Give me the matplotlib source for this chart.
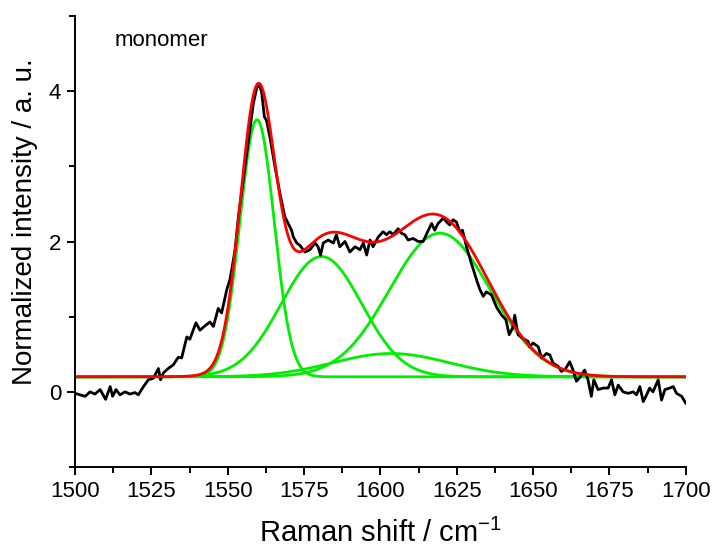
import numpy as np
import matplotlib
matplotlib.use("Agg")
import matplotlib.pyplot as plt
from matplotlib.ticker import MultipleLocator

plt.rcParams["font.family"] = ["Liberation Sans", "DejaVu Sans"]

# measured spectrum (Raman shift in cm^-1, normalized intensity)
shift = [
    1500.0, 1503.3, 1504.9, 1506.5, 1508.2, 1510.0, 1511.5, 1512.3, 1513.4, 1514.7,
    1516.4, 1518.0, 1519.6, 1520.7, 1522.4, 1524.0, 1525.6, 1527.3, 1528.0, 1528.9,
    1530.5, 1532.2, 1533.8, 1534.9, 1536.6, 1537.6, 1539.6, 1540.9, 1542.6, 1544.2,
    1545.3, 1546.9, 1548.0, 1549.7, 1550.7, 1551.5, 1552.4, 1553.5, 1555.1, 1556.7,
    1558.4, 1559.5, 1560.2, 1561.1, 1562.0, 1562.7, 1563.8, 1565.5, 1567.1, 1568.7,
    1569.8, 1570.9, 1571.5, 1572.6, 1573.6, 1575.3, 1576.9, 1578.6, 1579.6, 1580.4,
    1581.3, 1582.9, 1584.6, 1585.6, 1586.7, 1588.4, 1590.0, 1591.7, 1593.3, 1594.4,
    1595.5, 1596.6, 1597.6, 1599.3, 1600.9, 1602.0, 1603.1, 1604.2, 1605.8, 1606.9,
    1608.0, 1609.1, 1610.7, 1612.4, 1614.0, 1615.7, 1616.8, 1617.8, 1618.9, 1620.6,
    1621.7, 1622.7, 1623.8, 1624.9, 1626.0, 1626.9, 1628.2, 1629.8, 1631.5, 1632.6,
    1633.7, 1634.7, 1636.4, 1638.0, 1639.7, 1641.1, 1642.2, 1643.3, 1644.0, 1645.1,
    1646.7, 1648.4, 1648.9, 1650.0, 1651.7, 1652.8, 1654.4, 1655.5, 1656.6, 1658.2,
    1659.3, 1660.7, 1662.0, 1663.1, 1664.2, 1665.5, 1666.9, 1668.0, 1669.1, 1669.9,
    1671.3, 1673.0, 1674.6, 1675.7, 1676.8, 1677.9, 1679.5, 1681.2, 1682.8, 1683.9,
    1685.0, 1686.1, 1687.2, 1688.2, 1689.3, 1691.0, 1692.1, 1693.2, 1694.8, 1695.9,
    1697.0, 1698.7, 1700.0,
]
intensity = [
    -0.02, -0.06, 0.00, -0.03, 0.03, -0.10, 0.07, -0.06, 0.03, -0.04,
    0.00, -0.03, -0.01, -0.04, 0.07, 0.16, 0.18, 0.31, 0.16, 0.25,
    0.31, 0.36, 0.46, 0.45, 0.73, 0.70, 0.92, 0.82, 0.88, 0.93,
    0.87, 1.11, 1.05, 1.36, 1.49, 1.67, 1.89, 2.33, 2.82, 3.30,
    3.84, 4.04, 4.10, 3.99, 3.66, 3.61, 3.39, 2.99, 2.64, 2.33,
    2.24, 2.15, 2.06, 1.98, 1.95, 1.86, 1.89, 1.98, 1.93, 1.82,
    1.98, 2.02, 1.98, 2.09, 1.93, 2.00, 1.86, 1.93, 1.89, 1.98,
    1.82, 2.02, 1.93, 2.06, 2.13, 2.09, 2.13, 2.09, 2.17, 2.11,
    2.09, 2.02, 2.04, 2.00, 2.00, 2.15, 2.24, 2.15, 2.24, 2.31,
    2.26, 2.22, 2.29, 2.26, 2.13, 2.15, 1.93, 1.71, 1.49, 1.36,
    1.27, 1.33, 1.29, 1.13, 1.02, 0.96, 0.76, 0.85, 1.02, 0.76,
    0.71, 0.67, 0.60, 0.65, 0.60, 0.45, 0.51, 0.49, 0.38, 0.34,
    0.27, 0.31, 0.40, 0.29, 0.14, 0.20, 0.29, 0.16, -0.06, 0.16,
    0.03, 0.05, 0.05, 0.16, -0.04, 0.09, 0.00, -0.02, 0.00, -0.04,
    0.07, -0.13, -0.04, 0.05, 0.00, 0.16, -0.11, 0.03, 0.05, 0.07,
    -0.02, -0.06, -0.15,
]

# fitted Gaussian bands on a constant offset
baseline = 0.2
peak_center = [1559.6, 1580.7, 1619.5, 1603.5]
peak_height = [3.42, 1.60, 1.91, 0.31]
peak_sigma = [5.6, 13.2, 16.5, 19.0]

x_fit = np.linspace(1500, 1700, 1001)
bands = [
    h * np.exp(-((x_fit - c) ** 2) / (2 * s ** 2))
    for c, h, s in zip(peak_center, peak_height, peak_sigma)
]
total = baseline + np.sum(bands, axis=0)

fig = plt.figure(figsize=(7.15, 5.52), dpi=100)
ax = fig.add_axes([0.105, 0.154, 0.854, 0.817])

for band in bands:
    ax.plot(x_fit, baseline + band, color="#00ee00", lw=2.0)
ax.plot(shift, intensity, color="black", lw=2.0)
ax.plot(x_fit, total, color="#ff0000", lw=2.0)

ax.set_xlim(1500, 1700)
ax.set_ylim(-1, 5)
ax.xaxis.set_major_locator(MultipleLocator(25))
ax.xaxis.set_minor_locator(MultipleLocator(12.5))
ax.yaxis.set_major_locator(MultipleLocator(2))
ax.yaxis.set_minor_locator(MultipleLocator(1))

for side in ("top", "right"):
    ax.spines[side].set_visible(False)
for side in ("left", "bottom"):
    ax.spines[side].set_linewidth(1.4)
ax.tick_params(which="major", direction="out", length=6, width=1.4,
               labelsize=16, pad=4)
ax.tick_params(which="minor", direction="out", length=4, width=1.4)

ax.set_xlabel(r"Raman shift / cm$^{\mathregular{-1}}$", fontsize=21, labelpad=12)
ax.set_ylabel("Normalized intensity / a. u.", fontsize=20, labelpad=8, y=0.545)
ax.text(1513, 4.6, "monomer", fontsize=16)

fig.savefig("out.png", dpi=100)
